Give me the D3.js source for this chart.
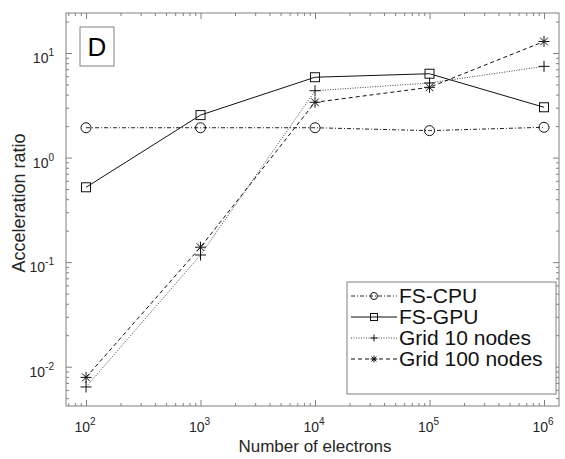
<!DOCTYPE html>
<html>
<head>
<meta charset="UTF-8">
<script src="https://cdn.jsdelivr.net/npm/d3@7"></script>
<style>
  body { margin: 0; background: #fff; }
  svg { display: block; font-family: "Liberation Sans", Arial, sans-serif; }
  .axis path { stroke: #808080; }
  .axis line { stroke: #808080; }
</style>
</head>
<body>
<svg id="chart" width="565" height="459"></svg>
<script>
  // Data
  var electrons = [1e2, 1e3, 1e4, 1e5, 1e6];
  var fsCpu = [1.93, 1.93, 1.93, 1.81, 1.95];
  var fsGpu = [0.52, 2.55, 5.87, 6.34, 3.03];
  var grid10 = [0.0064, 0.117, 4.36, 5.17, 7.46];
  var grid100 = [0.0079, 0.139, 3.38, 4.7, 12.9];
  var seriesNames = ["FS-CPU", "FS-GPU", "Grid 10 nodes", "Grid 100 nodes"];
  var xTickExp = [2, 3, 4, 5, 6];
  var yTickExp = [-2, -1, 0, 1];

  var svg = d3.select("#chart");
  // note: "top" is taken by window.top, so use plot* names
  var plotL = 66, plotR = 559, plotT = 13, plotB = 406;

  var x = d3.scaleLog().domain([Math.pow(10, 1.825), Math.pow(10, 6.131)]).range([plotL, plotR]);
  var y = d3.scaleLog().domain([Math.pow(10, -2.376), Math.pow(10, 1.383)]).range([plotB, plotT]);

  // minor tick values (2..9 of every decade)
  function minors(scale) {
    var d = scale.domain(), out = [];
    var e0 = Math.floor(Math.log10(d[0])), e1 = Math.ceil(Math.log10(d[1]));
    for (var e = e0; e <= e1; e++) {
      for (var k = 2; k <= 9; k++) {
        var v = k * Math.pow(10, e);
        if (v >= d[0] && v <= d[1]) out.push(v);
      }
    }
    return out;
  }

  var xMajor = xTickExp.map(e => Math.pow(10, e));
  var yMajor = yTickExp.map(e => Math.pow(10, e));

  // box
  svg.append("rect")
    .attr("x", plotL).attr("y", plotT)
    .attr("width", plotR - plotL).attr("height", plotB - plotT)
    .attr("fill", "none").attr("stroke", "#808080");

  // ticks on all four sides, pointing inward
  function addAxis(axisFn, scale, vals, size, tx, ty) {
    svg.append("g").attr("class", "axis")
      .attr("transform", "translate(" + tx + "," + ty + ")")
      .call(axisFn(scale).tickValues(vals).tickSize(size).tickFormat(""))
      .call(g => g.select(".domain").remove());
  }
  addAxis(d3.axisBottom, x, xMajor, -6, 0, plotB);
  addAxis(d3.axisBottom, x, minors(x), -3, 0, plotB);
  addAxis(d3.axisTop, x, xMajor, -6, 0, plotT);
  addAxis(d3.axisTop, x, minors(x), -3, 0, plotT);
  addAxis(d3.axisLeft, y, yMajor, -6, plotL, 0);
  addAxis(d3.axisLeft, y, minors(y), -3, plotL, 0);
  addAxis(d3.axisRight, y, yMajor, -6, plotR, 0);
  addAxis(d3.axisRight, y, minors(y), -3, plotR, 0);

  // tick labels with superscripts
  xTickExp.forEach(function (e) {
    var t = svg.append("text")
      .attr("x", x(Math.pow(10, e)) - 1).attr("y", plotB + 26)
      .attr("text-anchor", "middle")
      .attr("font-size", 14).attr("fill", "#262626");
    t.append("tspan").text("10");
    t.append("tspan").attr("dy", -7).attr("font-size", 10).text(e);
  });
  yTickExp.forEach(function (e) {
    var t = svg.append("text")
      .attr("x", plotL - 12).attr("y", y(Math.pow(10, e)) + 10)
      .attr("text-anchor", "end")
      .attr("font-size", 14).attr("fill", "#262626");
    t.append("tspan").text("10");
    t.append("tspan").attr("dy", -7).attr("font-size", 10).text(e);
  });

  // axis titles
  svg.append("text")
    .attr("x", 315).attr("y", 452)
    .attr("text-anchor", "middle")
    .attr("font-size", 17).attr("fill", "#262626")
    .text("Number of electrons");
  svg.append("text")
    .attr("transform", "translate(25,203) rotate(-90)")
    .attr("text-anchor", "middle")
    .attr("font-size", 18).attr("fill", "#262626")
    .text("Acceleration ratio");

  // panel letter
  svg.append("rect")
    .attr("x", 80).attr("y", 27).attr("width", 34).attr("height", 39)
    .attr("fill", "#fff").attr("stroke", "#808080");
  svg.append("text")
    .attr("x", 97).attr("y", 56).attr("text-anchor", "middle")
    .attr("font-size", 26).attr("fill", "#000").text("D");

  var series = [
    { name: seriesNames[0], values: fsCpu, dash: "4,2,1,2", color: "#222", marker: "circle" },
    { name: seriesNames[1], values: fsGpu, dash: null, color: "#111", marker: "square" },
    { name: seriesNames[2], values: grid10, dash: "1,1.5", color: "#444", marker: "plus" },
    { name: seriesNames[3], values: grid100, dash: "4,3", color: "#111", marker: "star" }
  ];

  function drawMarker(g, type, cx, cy, s) {
    if (type === "circle") {
      g.append("circle").attr("cx", cx).attr("cy", cy).attr("r", s)
        .attr("fill", "none").attr("stroke", "#111");
    } else if (type === "square") {
      g.append("rect").attr("x", cx - s).attr("y", cy - s)
        .attr("width", 2 * s).attr("height", 2 * s)
        .attr("fill", "none").attr("stroke", "#111");
    } else if (type === "plus") {
      g.append("path").attr("d", "M" + (cx - s) + "," + cy + "H" + (cx + s) + "M" + cx + "," + (cy - s) + "V" + (cy + s))
        .attr("stroke", "#111");
    } else {
      var d = "M" + (cx - s) + "," + cy + "H" + (cx + s) + "M" + cx + "," + (cy - s) + "V" + (cy + s);
      var k = s * 0.7;
      d += "M" + (cx - k) + "," + (cy - k) + "L" + (cx + k) + "," + (cy + k);
      d += "M" + (cx - k) + "," + (cy + k) + "L" + (cx + k) + "," + (cy - k);
      g.append("path").attr("d", d).attr("stroke", "#111");
    }
  }

  var line = d3.line().x(d => x(d[0])).y(d => y(d[1]));
  var plot = svg.append("g");
  series.forEach(function (s) {
    var pts = electrons.map((e, i) => [e, s.values[i]]);
    plot.append("path")
      .attr("d", line(pts))
      .attr("fill", "none")
      .attr("stroke", s.color)
      .attr("stroke-width", 1)
      .attr("stroke-dasharray", s.dash);
    pts.forEach(p => drawMarker(plot, s.marker, x(p[0]), y(p[1]), s.marker === "circle" ? 5 : (s.marker === "square" ? 4.5 : 5.5)));
  });

  // legend
  var lg = svg.append("g");
  lg.append("rect")
    .attr("x", 347).attr("y", 282).attr("width", 209).attr("height", 112)
    .attr("fill", "#fff").attr("stroke", "#808080");
  series.forEach(function (s, i) {
    var ly = 296 + i * 21;
    lg.append("line")
      .attr("x1", 351).attr("x2", 397).attr("y1", ly).attr("y2", ly)
      .attr("stroke", s.color).attr("stroke-dasharray", s.dash);
    drawMarker(lg, s.marker, 374, ly, 3.5);
    lg.append("text")
      .attr("x", 399).attr("y", ly + 7)
      .attr("font-size", 21).attr("fill", "#111")
      .text(s.name);
  });
</script>
</body>
</html>
